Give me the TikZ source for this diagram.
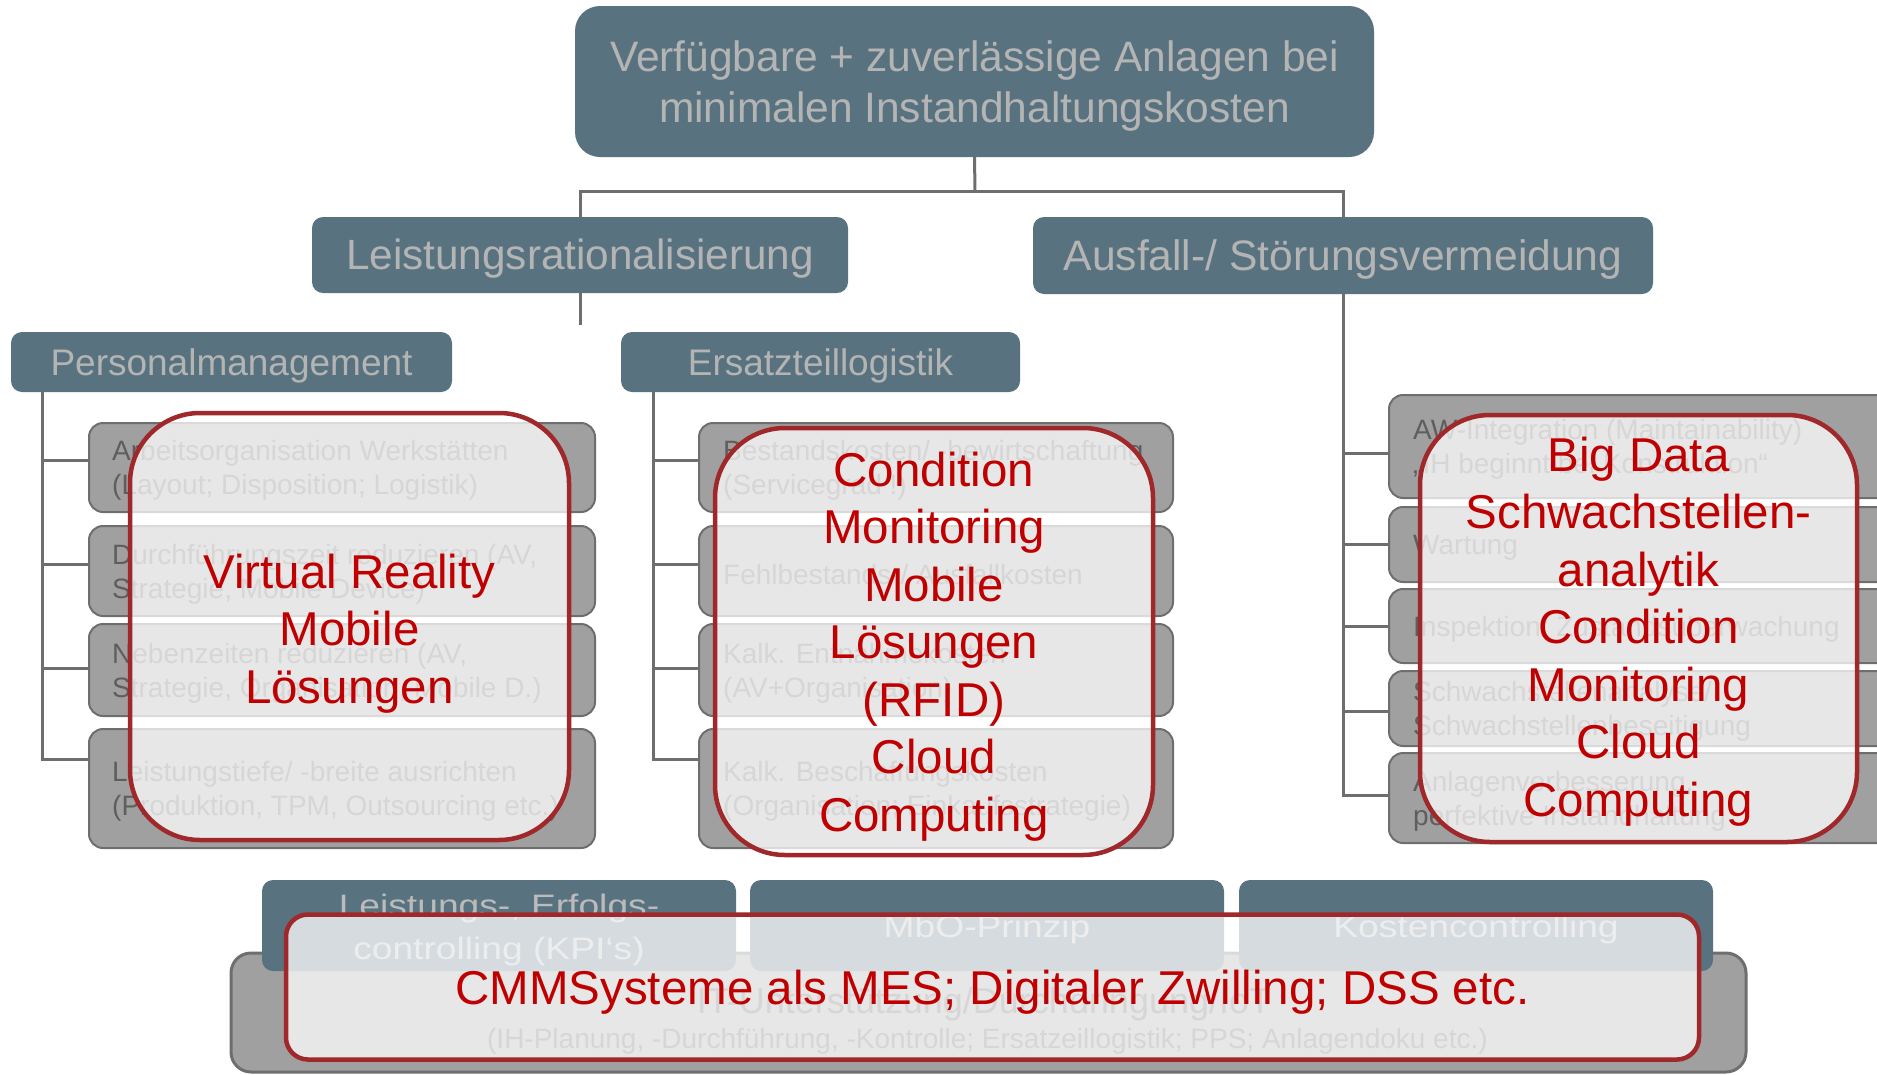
\documentclass[tikz,border=0pt]{standalone}
\usepackage{fontspec}
\setmainfont{Liberation Sans}
\newfontfamily\stretchfont[FakeStretch=1.2]{Liberation Sans}
\definecolor{blueC}{HTML}{58737F}
\definecolor{blueT}{HTML}{B4B4B4}
\definecolor{blueT2}{HTML}{BBBBBB}
\definecolor{grayF}{HTML}{A0A0A0}
\definecolor{grayD}{HTML}{6E6E6E}
\definecolor{grayT}{HTML}{5E5E5E}
\definecolor{redD}{HTML}{A0282A}
\definecolor{redT}{HTML}{C00000}
\definecolor{connC}{HTML}{6E6E6E}
\tikzset{
  bluebox/.style={fill=blueC, rounded corners=11pt, inner sep=0pt},
  btext/.style={text=blueT, inner sep=0pt, align=center},
  grayitem/.style={fill=grayF, draw=grayD, line width=2pt, rounded corners=14pt, inner sep=0pt},
  itemtext/.style={anchor=west, inner sep=0pt, align=left, text=grayT, font=\fontsize{28}{34}\selectfont},
  redframe/.style={draw=redD, line width=4.5pt, fill=white, fill opacity=0.75, inner sep=0pt},
  redtext/.style={text=redT, inner sep=0pt, align=center, font=\fontsize{47.5}{57.5}\selectfont},
  conn/.style={draw=connC, line width=3pt},
}
\begin{document}
\begin{tikzpicture}[x=1pt,y=-1pt]
\useasboundingbox (0,0) rectangle (1877,1074);
\clip (0,0) rectangle (1877,1074);

% ---------- upper hierarchy ----------
\node[bluebox, minimum width=799pt, minimum height=151pt, rounded corners=25pt] (top) at (974.5,81.5) {};
\node[btext, font=\fontsize{42.5}{51}\selectfont] (topT) at ([yshift=-4.5pt]top.center) {Verfügbare + zuverlässige Anlagen bei\\minimalen Instandhaltungskosten};
\node[bluebox, minimum width=536pt, minimum height=76pt] (lr) at (580,255) {};
\node[btext, font=\fontsize{42.3}{50}\selectfont] (lrT) at ([yshift=-4pt]lr.center) {Leistungsrationalisierung};
\node[bluebox, minimum width=620pt, minimum height=77pt] (av) at (1343,255.5) {};
\node[btext, font=\fontsize{42.6}{50}\selectfont] (avT) at ([yshift=-4pt]av.center) {Ausfall-/ Störungsvermeidung};
\node[bluebox, minimum width=441pt, minimum height=60pt] (pm) at (231.5,362) {};
\node[btext, font=\fontsize{37}{44}\selectfont] (pmT) at ([yshift=-4pt]pm.center) {Personalmanagement};
\node[bluebox, minimum width=399pt, minimum height=60pt] (el) at (820.5,362) {};
\node[btext, font=\fontsize{37}{44}\selectfont] (elT) at ([yshift=-4pt]el.center) {Ersatzteillogistik};

% ---------- left column items ----------
\node[grayitem, minimum width=506pt, minimum height=89pt] (l1) at (342,467.5) {};
\node[grayitem, minimum width=506pt, minimum height=90pt] (l2) at (342,571) {};
\node[grayitem, minimum width=506pt, minimum height=92pt] (l3) at (342,670) {};
\node[grayitem, minimum width=506pt, minimum height=119pt] (l4) at (342,788.5) {};
\node[itemtext] (l1t) at ([xshift=24pt,yshift=-3pt]l1.west) {Arbeitsorganisation Werkstätten\\(Layout; Disposition; Logistik)};
\node[itemtext] (l2t) at ([xshift=24pt,yshift=-3pt]l2.west) {Durchführungszeit reduzieren (AV,\\Strategie, Mobile Device)};
\node[itemtext] (l3t) at ([xshift=24pt,yshift=-3pt]l3.west) {Nebenzeiten reduzieren (AV,\\Strategie, Organisation, Mobile D.)};
\node[itemtext] (l4t) at ([xshift=24pt,yshift=-3pt]l4.west) {Leistungstiefe/ -breite ausrichten\\(Produktion, TPM, Outsourcing etc.)};

% ---------- middle column items ----------
\node[grayitem, minimum width=474pt, minimum height=89pt] (m1) at (936,467.5) {};
\node[grayitem, minimum width=474pt, minimum height=90pt] (m2) at (936,571) {};
\node[grayitem, minimum width=474pt, minimum height=92pt] (m3) at (936,670) {};
\node[grayitem, minimum width=474pt, minimum height=119pt] (m4) at (936,788.5) {};
\node[itemtext] (m1t) at ([xshift=25pt,yshift=-3pt]m1.west) {Bestandskosten/ -bewirtschaftung\\(Servicegrad !)};
\node[itemtext] (m2t) at ([xshift=25pt,yshift=-3pt]m2.west) {Fehlbestands-/ Ausfallkosten};
\node[itemtext] (m3t) at ([xshift=25pt,yshift=-3pt]m3.west) {Kalk. Entnahmekosten\\(AV+Organisation)};
\node[itemtext] (m4t) at ([xshift=25pt,yshift=-3pt]m4.west) {Kalk. Beschaffungskosten\\(Organisation; Einkaufsstrategie)};

% ---------- right column items ----------
\node[grayitem, minimum width=511pt, minimum height=103pt] (r1) at (1644.5,446.5) {};
\node[grayitem, minimum width=511pt, minimum height=75pt] (r2) at (1644.5,544.5) {};
\node[grayitem, minimum width=511pt, minimum height=74pt] (r3) at (1644.5,626) {};
\node[grayitem, minimum width=511pt, minimum height=75pt] (r4) at (1644.5,708.5) {};
\node[grayitem, minimum width=511pt, minimum height=90pt] (r5) at (1644.5,798) {};
\node[itemtext] (r1t) at ([xshift=25pt,yshift=-3pt]r1.west) {AW-Integration (Maintainability)\\„IH beginnt bei Konstruktion“};
\node[itemtext] (r2t) at ([xshift=25pt,yshift=-3pt]r2.west) {Wartung};
\node[itemtext] (r3t) at ([xshift=25pt,yshift=-3pt]r3.west) {Inspektion/ Zustandsüberwachung};
\node[itemtext] (r4t) at ([xshift=25pt,yshift=-3pt]r4.west) {Schwachstellenanalyse/\\Schwachstellenbeseitigung};
\node[itemtext] (r5t) at ([xshift=25pt,yshift=-3pt]r5.west) {Anlagenverbesserung,\\perfektive Instandhaltung};

% ---------- connectors ----------
\coordinate (hbar) at (975,191);
\coordinate (lrend) at (582,325);
\coordinate (pmx) at ([xshift=32pt]pm.south west);
\coordinate (elx) at ([xshift=33pt]el.south west);
\draw[conn] (top.south) -- (hbar);
\draw[conn] (lr.north) |- (hbar);
\draw[conn] (av.north) |- (hbar);
\draw[conn] (lr.south) -- (lr.south |- lrend);
\draw[conn] (pmx) |- ([yshift=7.5pt]l1.west);
\draw[conn] (pmx) |- ([yshift=7pt]l2.west);
\draw[conn] (pmx) |- ([yshift=2pt]l3.west);
\draw[conn] (pmx) |- ([yshift=29.5pt]l4.west);
\draw[conn] (elx) |- ([yshift=7.5pt]m1.west);
\draw[conn] (elx) |- ([yshift=7pt]m2.west);
\draw[conn] (elx) |- ([yshift=2pt]m3.west);
\draw[conn] (elx) |- ([yshift=29.5pt]m4.west);
\draw[conn] (av.south) |- ([yshift=-6.5pt]r1.west);
\draw[conn] (av.south) |- (r2.west);
\draw[conn] (av.south) |- (r3.west);
\draw[conn] (av.south) |- ([yshift=-3pt]r4.west);
\draw[conn] (av.south) |- ([yshift=3pt]r5.west);

% ---------- red overlays on columns ----------
\node[redframe, minimum width=439pt, minimum height=427pt, rounded corners=70pt] (vl) at (349.5,626.5) {};
\node[redtext] (vlT) at ([yshift=-7pt]vl.center) {Virtual Reality\\Mobile\\Lösungen};
\node[redframe, minimum width=438pt, minimum height=427pt, rounded corners=70pt] (vm) at (934,641.5) {};
\node[redtext] (vmT) at ([yshift=-5pt]vm.center) {Condition\\Monitoring\\Mobile\\Lösungen\\(RFID)\\Cloud\\Computing};
\node[redframe, minimum width=437pt, minimum height=427pt, rounded corners=70pt] (vr) at (1638.5,628.5) {};
\node[redtext] (vrT) at ([yshift=-3pt]vr.center) {Big Data\\Schwachstellen-\\analytik\\Condition\\Monitoring\\Cloud\\Computing};

% ---------- bottom foundation ----------
\node[grayitem, line width=3pt, rounded corners=20pt, minimum width=1515pt, minimum height=119pt] (it) at (988.5,1012.5) {};
\node[anchor=base, inner sep=0pt, text=grayT, font=\fontsize{36}{40}\selectfont] (itt1) at (984,1013) {IT-Unterstützung/Durchdringung/IoT};
\node[anchor=base, inner sep=0pt, text=grayT, font=\fontsize{28}{32}\selectfont] (itt2) at (987.5,1048) {(IH-Planung, -Durchführung, -Kontrolle; Ersatzeillogistik; PPS; Anlagendoku etc.)};
\node[bluebox, minimum width=474pt, minimum height=91pt] (ba) at (499,925.5) {};
\node[bluebox, minimum width=474pt, minimum height=91pt] (bb) at (987,925.5) {};
\node[bluebox, minimum width=474pt, minimum height=91pt] (bc) at (1476,925.5) {};
\node[btext, text=blueT2, font=\stretchfont\fontsize{31}{43}\selectfont] (baT) at ([yshift=-4pt]ba.center) {Leistungs-, Erfolgs-\\controlling (KPI‘s)};
\node[btext, text=blueT2, font=\stretchfont\fontsize{31}{43}\selectfont] (bbT) at ([yshift=-4pt]bb.center) {MbO-Prinzip};
\node[btext, text=blueT2, font=\stretchfont\fontsize{31}{43}\selectfont] (bcT) at ([yshift=-4pt]bc.center) {Kostencontrolling};
\node[redframe, minimum width=1413pt, minimum height=145pt, rounded corners=22pt] (vb) at (992.5,987) {};
\node[redtext] (vbT) at ([yshift=-5pt]vb.center) {CMMSysteme als MES; Digitaler Zwilling; DSS etc.};
\end{tikzpicture}
\end{document}
